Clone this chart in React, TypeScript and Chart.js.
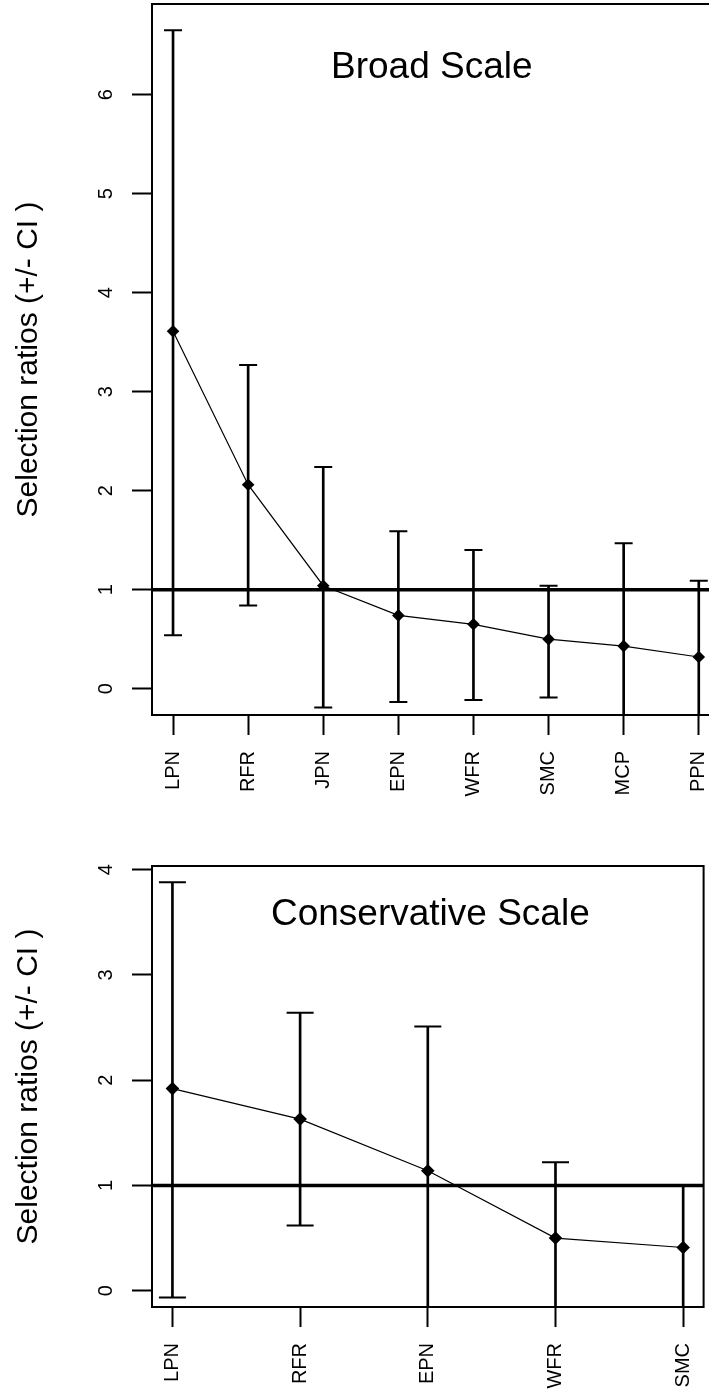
import React, { useEffect, useRef } from 'react';
import { Chart, registerables } from 'chart.js';

Chart.register(...registerables);

// ---------- data ----------
const broadCategories = ['LPN', 'RFR', 'JPN', 'EPN', 'WFR', 'SMC', 'MCP', 'PPN'];
const broadRatios = [3.61, 2.06, 1.04, 0.74, 0.65, 0.5, 0.43, 0.32];
const broadUpper = [6.65, 3.27, 2.24, 1.59, 1.4, 1.04, 1.47, 1.09];
const broadLower = [0.54, 0.84, -0.19, -0.135, -0.115, -0.09, -0.5, -0.5];
const broadYTicks = [0, 1, 2, 3, 4, 5, 6];

const consCategories = ['LPN', 'RFR', 'EPN', 'WFR', 'SMC'];
const consRatios = [1.92, 1.63, 1.14, 0.5, 0.41];
const consUpper = [3.88, 2.64, 2.51, 1.22, 1.0];
const consLower = [-0.066, 0.62, -0.4, -0.4, -0.4];
const consYTicks = [0, 1, 2, 3, 4];

const referenceRatio = 1;
const yAxisTitle = 'Selection ratios (+/- CI )';
const broadTitle = 'Broad Scale';
const consTitle = 'Conservative Scale';

const FONT = '"Liberation Sans", Arial, Helvetica, sans-serif';

type PanelSpec = {
  id: string;
  categories: string[];
  ratios: number[];
  upper: number[];
  lower: number[];
  yTicks: number[];
  title: string;
  titleX: number;
  titleY: number;
  canvasTop: number;
  canvasW: number;
  canvasH: number;
  plotLeft: number;
  plotTop: number;
  plotRight: number;
  plotBottom: number;
  capHalf: number;
  pointRadius: number;
};

const panels: PanelSpec[] = [
  {
    id: 'broad',
    categories: broadCategories,
    ratios: broadRatios,
    upper: broadUpper,
    lower: broadLower,
    yTicks: broadYTicks,
    title: broadTitle,
    titleX: 4.445,
    titleY: 6.165,
    canvasTop: 0,
    canvasW: 730,
    canvasH: 800,
    plotLeft: 152,
    plotTop: 4,
    plotRight: 719.8,
    plotBottom: 715,
    capHalf: 9,
    pointRadius: 6.3,
  },
  {
    id: 'cons',
    categories: consCategories,
    ratios: consRatios,
    upper: consUpper,
    lower: consLower,
    yTicks: consYTicks,
    title: consTitle,
    titleX: 3.02,
    titleY: 3.47,
    canvasTop: 800,
    canvasW: 709,
    canvasH: 595,
    plotLeft: 152,
    plotTop: 66,
    plotRight: 703.6,
    plotBottom: 507,
    capHalf: 13.5,
    pointRadius: 6.8,
  },
];

const TICK_FONT = 20;
const YTITLE_FONT = 30;
const TITLE_FONT = 37;
const Y_TICK_BASELINE_X = 112;
const Y_TITLE_BASELINE_X = 36.5;

function makePlugin(p: PanelSpec) {
  return {
    id: 'rstyle_' + p.id,
    afterDatasetsDraw(chart: any) {
      const { ctx, chartArea: a, scales } = chart;
      const yr = scales.y.getPixelForValue(referenceRatio);
      ctx.save();
      ctx.strokeStyle = '#000';
      ctx.lineWidth = 3.5;
      ctx.beginPath();
      ctx.moveTo(a.left, yr);
      ctx.lineTo(a.right, yr);
      ctx.stroke();
      ctx.lineWidth = 2;
      ctx.strokeRect(a.left, a.top, a.right - a.left, a.bottom - a.top);
      ctx.restore();
    },
    afterDraw(chart: any) {
      const { ctx, chartArea: a, scales } = chart;
      const x = scales.x;
      const y = scales.y;
      ctx.save();
      ctx.fillStyle = '#000';
      ctx.textAlign = 'center';
      ctx.textBaseline = 'alphabetic';
      ctx.font = `${TICK_FONT}px ${FONT}`;
      p.yTicks.forEach((v) => {
        const py = y.getPixelForValue(v);
        ctx.save();
        ctx.translate(Y_TICK_BASELINE_X, py);
        ctx.rotate(-Math.PI / 2);
        ctx.fillText(String(v), 0, 0);
        ctx.restore();
      });
      ctx.font = `${YTITLE_FONT}px ${FONT}`;
      ctx.save();
      ctx.translate(Y_TITLE_BASELINE_X, (a.top + a.bottom) / 2);
      ctx.rotate(-Math.PI / 2);
      ctx.fillText(yAxisTitle, 0, 0);
      ctx.restore();
      ctx.font = `${TITLE_FONT}px ${FONT}`;
      ctx.fillText(p.title, x.getPixelForValue(p.titleX), y.getPixelForValue(p.titleY));
      ctx.restore();
    },
  };
}

function zeroPadding(s: any) {
  s.paddingLeft = 0;
  s.paddingRight = 0;
  s.paddingTop = 0;
  s.paddingBottom = 0;
}

function Panel({ p }: { p: PanelSpec }) {
  const ref = useRef<HTMLCanvasElement | null>(null);
  useEffect(() => {
    if (!ref.current) return;
    const n = p.categories.length;
    const xMin = 1 - 0.04 * (n - 1);
    const xMax = n + 0.04 * (n - 1);
    const yLo = 0;
    const yHi = Math.max(...p.upper);
    const yPad = 0.04 * (yHi - yLo);
    const chart = new Chart(ref.current, {
      type: 'line',
      data: {
        datasets: [
          {
            type: 'line',
            data: p.ratios.map((v, i) => ({ x: i + 1, y: v })),
            borderColor: '#000',
            borderWidth: 1.2,
            pointStyle: 'rectRot',
            pointRadius: p.pointRadius,
            pointBackgroundColor: '#000',
            pointBorderColor: '#000',
            pointBorderWidth: 0,
            tension: 0,
            order: 0,
          } as any,
          {
            type: 'bar',
            data: p.ratios.map((_, i) => ({ x: i + 1, y: [p.lower[i], p.upper[i]] })),
            backgroundColor: '#000',
            borderWidth: 0,
            barThickness: 2,
            clip: 0,
            order: 2,
          } as any,
          {
            type: 'scatter',
            data: p.upper.map((v, i) => ({ x: i + 1, y: v })),
            pointStyle: 'line',
            pointRadius: p.capHalf,
            pointBorderColor: '#000',
            pointBorderWidth: 2,
            showLine: false,
            clip: 0,
            order: 1,
          } as any,
          {
            type: 'scatter',
            data: p.lower.map((v, i) => ({ x: i + 1, y: v })),
            pointStyle: 'line',
            pointRadius: p.capHalf,
            pointBorderColor: '#000',
            pointBorderWidth: 2,
            showLine: false,
            clip: 0,
            order: 1,
          } as any,
        ],
      },
      options: {
        responsive: false,
        animation: false,
        devicePixelRatio: 1,
        events: [],
        layout: {
          autoPadding: false,
          padding: {
            top: p.plotTop,
            right: p.canvasW - p.plotRight,
            left: 0,
            bottom: 0,
          },
        },
        plugins: {
          legend: { display: false },
          tooltip: { enabled: false },
          title: { display: false },
        },
        scales: {
          x: {
            type: 'linear',
            min: xMin,
            max: xMax,
            offset: false,
            afterBuildTicks: (s: any) => {
              s.ticks = p.categories.map((_, i) => ({ value: i + 1 }));
            },
            afterFit: (s: any) => {
              s.height = p.canvasH - p.plotBottom;
              zeroPadding(s);
            },
            grid: {
              offset: false,
              drawOnChartArea: false,
              drawTicks: true,
              tickLength: 20,
              tickWidth: 2,
              tickColor: '#000',
            },
            border: { display: false },
            ticks: {
              autoSkip: false,
              minRotation: 90,
              maxRotation: 90,
              padding: 16,
              color: '#000',
              font: { family: FONT, size: TICK_FONT },
              callback: (v: any) => p.categories[Math.round(Number(v)) - 1] ?? '',
            },
          },
          y: {
            type: 'linear',
            min: yLo - yPad,
            max: yHi + yPad,
            afterBuildTicks: (s: any) => {
              s.ticks = p.yTicks.map((v) => ({ value: v }));
            },
            afterFit: (s: any) => {
              s.width = p.plotLeft;
              zeroPadding(s);
            },
            grid: {
              offset: false,
              drawOnChartArea: false,
              drawTicks: true,
              tickLength: 20,
              tickWidth: 2,
              tickColor: '#000',
            },
            border: { display: false },
            ticks: { display: false },
          },
        },
      } as any,
      plugins: [makePlugin(p)],
    });
    return () => chart.destroy();
  }, [p]);
  return (
    <canvas
      ref={ref}
      width={p.canvasW}
      height={p.canvasH}
      style={{
        position: 'absolute',
        left: 0,
        top: p.canvasTop,
        width: p.canvasW,
        height: p.canvasH,
      }}
    />
  );
}

export default function App() {
  return (
    <div
      style={{
        position: 'absolute',
        left: 0,
        top: 0,
        width: 709,
        height: 1395,
        overflow: 'hidden',
        background: '#fff',
      }}
    >
      {panels.map((p) => (
        <Panel key={p.id} p={p} />
      ))}
    </div>
  );
}
